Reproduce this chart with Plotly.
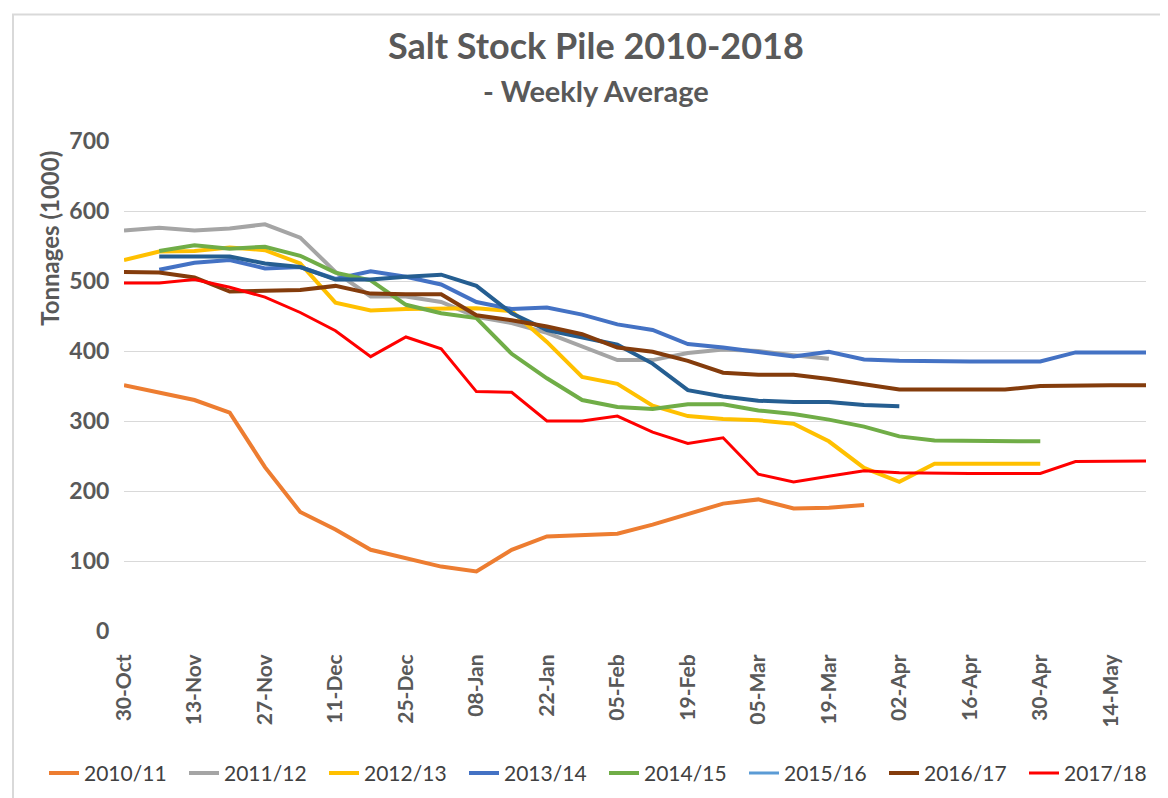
import plotly.graph_objects as go

weeks = ["30-Oct", "06-Nov", "13-Nov", "20-Nov", "27-Nov", "04-Dec", "11-Dec", "18-Dec",
         "25-Dec", "01-Jan", "08-Jan", "15-Jan", "22-Jan", "29-Jan", "05-Feb", "12-Feb",
         "19-Feb", "26-Feb", "05-Mar", "12-Mar", "19-Mar", "26-Mar", "02-Apr", "09-Apr",
         "16-Apr", "23-Apr", "30-Apr", "07-May", "14-May", "21-May"]

N = None
s2010 = [351, 341, 330, 312, 234, 170, 145, 116, 104, 92, 85, 116, 135, 137, 139, 152,
         167, 182, 188, 175, 176, 180, N, N, N, N, N, N, N, N]
s2011 = [572, 576, 572, 575, 581, 562, 513, 478, 478, 470, 449, 440, 426, 406, 387, 387,
         397, 402, 400, 394, 389, N, N, N, N, N, N, N, N, N]
s2012 = [530, 542, 543, 548, 544, 525, 469, 458, 460, 461, 461, 457, 413, 363, 353, 322,
         307, 303, 301, 296, 271, 233, 213, 239, 239, 239, 239, N, N, N]
s2013 = [N, 516, 526, 530, 518, 520, 503, 514, 506, 495, 470, 460, 462, 452, 438, 430,
         410, 405, 398, 392, 399, 388, 386, 385, 385, 385, 385, 398, 398, 398]
s2014 = [N, 543, 551, 546, 549, 536, 512, 501, 466, 454, 447, 396, 361, 330, 320, 317,
         324, 324, 315, 310, 302, 292, 278, 272, 272, 272, 271, N, N, N]
s2015 = [N, 535, 535, 535, 525, 520, 502, 502, 506, 509, 493, 454, 430, 420, 409, 382,
         344, 335, 329, 327, 327, 323, 321, N, N, N, N, N, N, N]
s2016 = [513, 512, 505, 485, 486, 487, 493, 482, 481, 481, 451, 444, 435, 424, 405, 399,
         386, 369, 366, 366, 360, 352, 345, 345, 345, 345, 350, 351, 351, 351]
s2017 = [497, 497, 502, 491, 477, 455, 429, 392, 420, 403, 342, 341, 300, 300, 307, 284,
         268, 276, 224, 213, 221, 229, 226, 225, 225, 225, 225, 242, 243, 243]

yticks = [0, 100, 200, 300, 400, 500, 600, 700]
xtick_labels = weeks[::2]

TXT = "#595959"
FONT = "Lato"

fig = go.Figure()

def add(name, vals, color, width, legend=True):
    fig.add_trace(go.Scatter(x=weeks, y=vals, name=name, mode="lines",
                             line=dict(color=color, width=width),
                             connectgaps=False, showlegend=legend))

add("2010/11", s2010, "#ED7D31", 4)
add("2011/12", s2011, "#A5A5A5", 4)
add("2012/13", s2012, "#FFC000", 4)
add("2013/14", s2013, "#4472C4", 4)
add("2014/15", s2014, "#70AD47", 4)
# legend swatch for 2015/16 (series default format) and the drawn line
fig.add_trace(go.Scatter(x=[None], y=[None], name="2015/16", mode="lines",
                         line=dict(color="#5B9BD5", width=3)))
add("2015/16", s2015, "#255E91", 4, legend=False)
add("2016/17", s2016, "#843C0C", 4)
add("2017/18", s2017, "#FF0000", 3)

L, R, T, B = 116, 30, 133, 169
W, H = 1168, 798
pw, ph = W - L - R, H - T - B

def px(x):
    return (x - L) / pw

def py(y):
    return (H - B - y) / ph

fig.update_layout(
    width=W, height=H, autosize=False,
    margin=dict(l=L, r=R, t=T, b=B, pad=0),
    paper_bgcolor="white", plot_bgcolor="white",
    font=dict(family=FONT, color=TXT),
    showlegend=True,
    legend=dict(orientation="h", x=px(36), y=py(773), xanchor="left", yanchor="middle",
                font=dict(family=FONT, size=21, color="#404040"),
                entrywidth=95, entrywidthmode="pixels", itemclick=False,
                bgcolor="rgba(0,0,0,0)", tracegroupgap=0),
    xaxis=dict(type="category", range=[0, 29], tickmode="array",
               tickvals=xtick_labels, ticktext=xtick_labels, tickangle=-90,
               showgrid=False, showline=False, zeroline=False,
               ticks="outside", ticklen=14, tickcolor="rgba(0,0,0,0)",
               tickfont=dict(family=FONT, size=21, color=TXT, weight="bold")),
    yaxis=dict(range=[0, 700], tickmode="array", tickvals=yticks,
               showgrid=True, gridcolor="#D9D9D9", gridwidth=1,
               zeroline=False, showline=False,
               ticks="outside", ticklen=9, tickcolor="rgba(0,0,0,0)",
               tickfont=dict(family=FONT, size=23, color=TXT, weight="bold")),
    annotations=[
        dict(text="Salt Stock Pile 2010-2018", xref="paper", yref="paper",
             x=px(588), y=py(36), xanchor="center", yanchor="middle", showarrow=False,
             font=dict(family=FONT, size=36, color=TXT, weight="bold")),
        dict(text="- Weekly Average", xref="paper", yref="paper",
             x=px(588), y=py(82), xanchor="center", yanchor="middle", showarrow=False,
             font=dict(family=FONT, size=29, color=TXT, weight="bold")),
        dict(text="Tonnages (1000)", xref="paper", yref="paper", textangle=-90,
             x=px(42), y=py(232), xanchor="center", yanchor="middle", showarrow=False,
             font=dict(family=FONT, size=24, color=TXT, weight="bold")),
    ],
    shapes=[dict(type="rect", xref="paper", yref="paper",
                 x0=px(5), x1=px(1175), y0=py(805), y1=py(5),
                 line=dict(color="#D9D9D9", width=2), fillcolor="rgba(0,0,0,0)",
                 layer="below")],
)

fig.write_html("out.html")
